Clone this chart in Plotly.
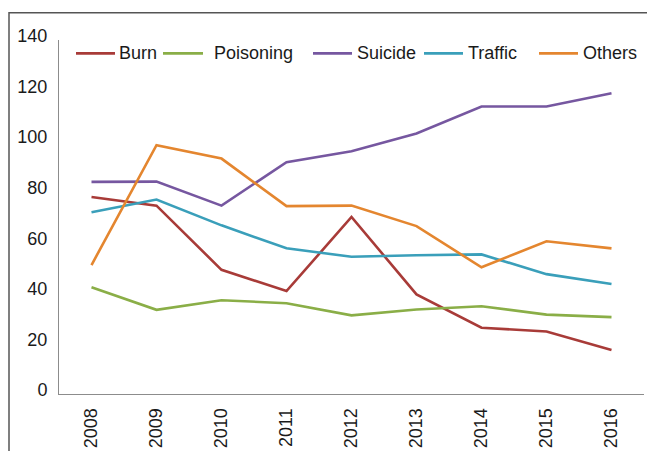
import plotly.graph_objects as go

years = ["2008", "2009", "2010", "2011", "2012", "2013", "2014", "2015", "2016"]
burn = [77.9, 74.5, 49.1, 40.7, 70.0, 39.4, 26.2, 24.7, 17.4]
poisoning = [42.2, 33.3, 37.1, 35.9, 31.1, 33.4, 34.7, 31.4, 30.4]
suicide = [83.9, 84.0, 74.5, 91.7, 96.0, 103.0, 113.7, 113.7, 118.9]
traffic = [71.9, 76.9, 66.7, 57.6, 54.3, 54.9, 55.2, 47.4, 43.5]
others = [51.0, 98.4, 93.1, 74.3, 74.5, 66.4, 50.1, 60.4, 57.6]

series = [
    ("Burn", burn, "#A83B38"),
    ("Poisoning", poisoning, "#8AAE47"),
    ("Suicide", suicide, "#7657A0"),
    ("Traffic", traffic, "#3A9FBA"),
    ("Others", others, "#E4862F"),
]

# legend layout (pixel x of sample start, sample end, text start)
legend_px = [(76, 115, 118), (163, 203, 213), (313, 352, 356),
             (424, 463, 467), (539, 578, 582)]
legend_y_px = 53

W, H = 647, 451
ml, mr, mt, mb = 59, 3, 39.5, 54
pw = W - ml - mr
ph = H - mt - mb


def px_x(p):
    return (p - ml) / pw


def px_y(p):
    return (H - mb - p) / ph


fig = go.Figure()
for name, vals, col in series:
    fig.add_trace(go.Scatter(x=years, y=vals, name=name, mode="lines",
                             line=dict(color=col, width=2.6)))

font = dict(family="Liberation Sans, Arial", size=18, color="#1a1a1a")

fig.update_layout(
    width=W, height=H,
    margin=dict(l=ml, r=mr, t=mt, b=mb, pad=0),
    paper_bgcolor="white", plot_bgcolor="white",
    font=font,
    showlegend=False,
    xaxis=dict(type="category", range=[-0.5, 8.5], showgrid=False,
               showline=True, linecolor="#8c8c8c", linewidth=1,
               ticks="", tickangle=-90, ticklabelstandoff=6,
               tickfont=font, zeroline=False),
    yaxis=dict(range=[0, 140], dtick=20, showgrid=False, showline=True,
               linecolor="#8c8c8c", linewidth=1, ticks="",
               ticklabelshift=-4, ticklabelstandoff=7,
               tickfont=font, zeroline=False),
)

# manual legend
ly = px_y(legend_y_px)
for (name, _, col), (s0, s1, t0) in zip(series, legend_px):
    fig.add_shape(type="line", xref="paper", yref="paper",
                  x0=px_x(s0), x1=px_x(s1), y0=ly, y1=ly,
                  line=dict(color=col, width=2.6))
    fig.add_annotation(xref="paper", yref="paper", x=px_x(t0), y=ly,
                       xanchor="left", yanchor="middle", text=name,
                       showarrow=False, font=font, xshift=-1)

# outer chart border
fig.add_shape(type="rect", xref="paper", yref="paper",
              x0=px_x(9), x1=px_x(660),
              y0=-80 / ph, y1=px_y(12),
              line=dict(color="#555555", width=1.5), layer="below")

fig.write_html("out.html")
